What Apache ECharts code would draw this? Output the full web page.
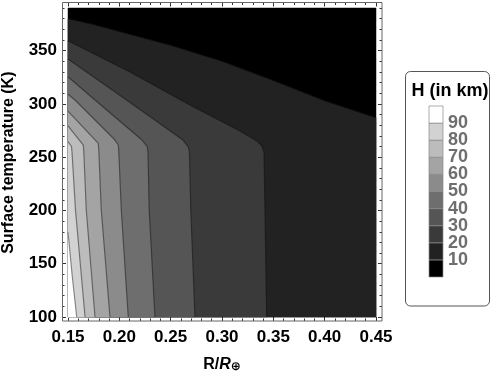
<!DOCTYPE html>
<html><head><meta charset="utf-8">
<script src="https://cdn.jsdelivr.net/npm/echarts@6/dist/echarts.min.js"></script>
<style>html,body{margin:0;padding:0;background:#fff}#c{width:491px;height:378px}</style>
</head><body><div id="c"></div>
<script>
// ---- data ----
const xTicks = [0.15, 0.20, 0.25, 0.30, 0.35, 0.40, 0.45];
const yTicks = [100, 150, 200, 250, 300, 350];
const xRange = [0.15, 0.45];
const yRange = [100, 390];
const levels = [10, 20, 30, 40, 50, 60, 70, 80, 90];
const bandColors = ['#000000', '#222222', '#3a3a3a', '#555555', '#6e6e6e', '#8b8b8b', '#a4a4a4', '#bcbcbc', '#d2d2d2', '#ffffff'];
// contour boundaries [R/R_earth, T (K)]
const c10 = [[0.15,380],[0.175,374.5],[0.20,368],[0.25,355],[0.30,340],[0.35,322],[0.40,303],[0.45,287]];
const c20 = [[0.15,359.3],[0.2104,329.9],[0.2688,299.0],[0.3175,274.6],[0.3341,265.2],[0.3390,260.5],[0.3409,254.9],[0.3419,200.4],[0.3435,100]];
const c30 = [[0.15,342.1],[0.2084,302.7],[0.262,266.1],[0.2672,259.5],[0.2683,254.9],[0.2696,200.4],[0.2737,100]];
const c40 = [[0.15,325.5],[0.1763,303.7],[0.2221,266.1],[0.2272,260.0],[0.2279,254.9],[0.2291,200.4],[0.2347,100]];
const c50 = [[0.15,309.0],[0.1568,303.7],[0.1948,267.1],[0.1990,261.4],[0.1995,254.9],[0.2019,200.4],[0.2087,100]];
const c60 = [[0.15,293.3],[0.1795,263.0],[0.18,256.7],[0.1824,200.4],[0.1909,100]];
const c70 = [[0.15,279.3],[0.1649,261.4],[0.1654,254.9],[0.1678,200.4],[0.1763,100]];
const c80 = [[0.15,264.5],[0.1534,260],[0.1539,254.9],[0.1573,200.4],[0.1666,100]];
const c90 = [[0.15,179.8],[0.1542,137.8],[0.1585,100]];
const contours = [c10, c20, c30, c40, c50, c60, c70, c80, c90];

// ---- build regions ----
const polys = [[[xRange[0], yRange[0]], [xRange[1], yRange[0]], [xRange[1], yRange[1]], [xRange[0], yRange[1]]]];
contours.forEach(c => {
  const p = c.slice();
  const last = c[c.length - 1];
  if (last[1] > yRange[0]) p.push([xRange[1], yRange[0]]);
  p.push([xRange[0], yRange[0]]);
  polys.push(p);
});
const bandLo = [0].concat(levels);
const bandHi = levels.concat([100]);

const FONT = '"Liberation Sans", Arial, Helvetica, sans-serif';
const chart = echarts.init(document.getElementById('c'), null, {renderer: 'canvas'});

const frameTick = {show: true, inside: true, length: 4, lineStyle: {color: '#333', width: 1}};
const frameMinor = {show: true, splitNumber: 5, length: 2.5, lineStyle: {color: '#333', width: 1}};

const series = [{
  type: 'custom', xAxisIndex: 0, yAxisIndex: 0, z: 1, silent: true,
  data: polys.map((_, i) => [i]),
  renderItem: (params, api) => {
    const i = api.value(0);
    return {type: 'polygon', shape: {points: polys[i].map(p => api.coord(p))},
            style: {fill: bandColors[i], stroke: bandColors[i], lineWidth: 0.5}};
  }
}];
contours.forEach(c => series.push({
  type: 'line', xAxisIndex: 0, yAxisIndex: 0, z: 3, silent: true, symbol: 'none',
  data: c, lineStyle: {color: 'rgba(0,0,0,0.45)', width: 1.2}
}));
series.push({
  type: 'custom', xAxisIndex: 2, yAxisIndex: 2, z: 2, silent: true,
  data: bandLo.map((_, i) => [i]),
  renderItem: (params, api) => {
    const i = api.value(0);
    const a = api.coord([0, bandLo[i]]);
    const b = api.coord([1, bandHi[i]]);
    return {type: 'rect', shape: {x: a[0], y: b[1], width: b[0] - a[0], height: a[1] - b[1]},
            style: {fill: bandColors[i], stroke: '#8a8a8a', lineWidth: 0.7}};
  }
});

chart.setOption({
  animation: false,
  backgroundColor: '#fff',
  title: {text: 'H (in km)', left: 445, top: 77, textAlign: 'center',
          textStyle: {fontFamily: FONT, fontSize: 18, fontWeight: 'bold', color: '#000'}},
  grid: [
    {left: 68, right: 115, top: -2.655, bottom: 61, containLabel: false, outerBoundsMode: 'none'},
    {left: 429, top: 106, width: 14, height: 171, containLabel: false, outerBoundsMode: 'none'}
  ],
  xAxis: [
    {gridIndex: 0, type: 'value', position: 'bottom', offset: 4, min: xRange[0], max: xRange[1], interval: 0.05,
     axisLine: {show: false}, splitLine: {show: false}, axisTick: frameTick, minorTick: frameMinor,
     axisLabel: {margin: 8, fontFamily: FONT, fontSize: 17, fontWeight: 'bold', color: '#000',
                 formatter: v => v.toFixed(2)},
     name: '{a|R/}{b|R}{c|⊕}', nameLocation: 'middle', nameGap: 36,
     nameTextStyle: {fontFamily: FONT, color: '#000', rich: {
       a: {fontFamily: FONT, fontSize: 16, fontWeight: 'bold', color: '#000', verticalAlign: 'bottom'},
       b: {fontFamily: FONT, fontSize: 16, fontWeight: 'bold', fontStyle: 'italic', color: '#000', verticalAlign: 'bottom'},
       c: {fontFamily: 'DejaVu Sans', fontSize: 12, fontWeight: 'bold', color: '#000', verticalAlign: 'bottom'}
     }}},
    {gridIndex: 0, type: 'value', position: 'top', offset: -5.2, min: xRange[0], max: xRange[1], interval: 0.05,
     axisLine: {show: false}, splitLine: {show: false}, axisTick: frameTick, minorTick: frameMinor,
     axisLabel: {show: false}},
    {gridIndex: 1, type: 'value', min: 0, max: 1, show: false}
  ],
  yAxis: [
    {gridIndex: 0, type: 'value', position: 'left', offset: 6, min: 100, max: 400, interval: 50,
     axisLine: {show: false}, splitLine: {show: false}, axisTick: frameTick, minorTick: frameMinor,
     axisLabel: {margin: 5, showMaxLabel: false, fontFamily: FONT, fontSize: 17, fontWeight: 'bold', color: '#000'},
     name: 'Surface temperature (K)', nameLocation: 'middle', nameGap: 45, nameRotate: 90,
     nameTextStyle: {fontFamily: FONT, fontSize: 16, fontWeight: 'bold', color: '#000', padding: [0, 11, 0, 0]}},
    {gridIndex: 0, type: 'value', position: 'right', offset: 6, min: 100, max: 400, interval: 50,
     axisLine: {show: false}, splitLine: {show: false}, axisTick: frameTick, minorTick: frameMinor,
     axisLabel: {show: false}},
    {gridIndex: 1, type: 'value', position: 'right', min: 0, max: 100, interval: 10,
     axisLine: {show: false}, splitLine: {show: false},
     axisTick: {show: true, inside: false, length: 5, lineStyle: {color: '#777', width: 1}},
     axisLabel: {margin: 5, showMinLabel: false, showMaxLabel: false,
                 fontFamily: FONT, fontSize: 18, fontWeight: 'bold', color: '#6e6e6e'}}
  ],
  graphic: [
    {type: 'rect', z: 10, silent: true, shape: {x: 62.5, y: 2.5, width: 319.5, height: 318.5},
     style: {fill: 'none', stroke: '#666', lineWidth: 1}},
    {type: 'rect', z: 10, silent: true, shape: {x: 405.5, y: 71.5, width: 84, height: 234.5, r: 5},
     style: {fill: 'none', stroke: '#555', lineWidth: 1}}
  ],
  series: series
});
</script></body></html>
